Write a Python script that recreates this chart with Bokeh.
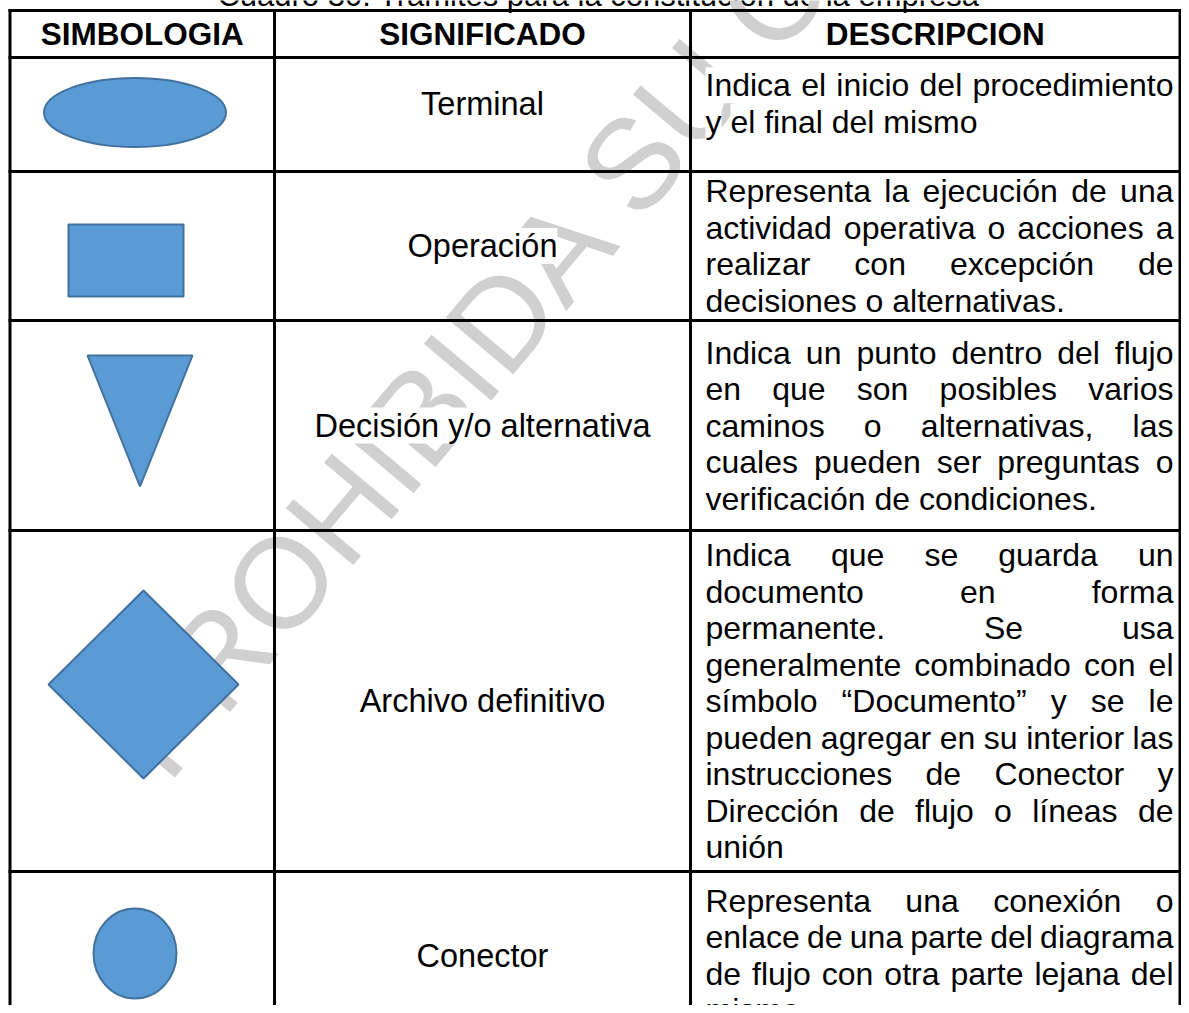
import numpy as np
from bokeh.plotting import figure
from bokeh.models import Range1d, ColumnDataSource
from bokeh.core.properties import value
from bokeh.embed import file_html
from bokeh.resources import INLINE

# ---------------- content ----------------
title = "Cuadro 30: Trámites para la constitución de la empresa"
headers = ["SIMBOLOGIA", "SIGNIFICADO", "DESCRIPCION"]
meanings = ["Terminal", "Operación", "Decisión y/o alternativa",
            "Archivo definitivo", "Conector"]
symbols = ["ellipse", "rect", "triangle", "diamond", "circle"]
descriptions = [
    ["Indica el inicio del procedimiento",
     "y el final del mismo"],
    ["Representa la ejecución de una",
     "actividad operativa o acciones a",
     "realizar con excepción de",
     "decisiones o alternativas."],
    ["Indica un punto dentro del flujo",
     "en que son posibles varios",
     "caminos o alternativas, las",
     "cuales pueden ser preguntas o",
     "verificación de condiciones."],
    ["Indica que se guarda un",
     "documento en forma",
     "permanente. Se usa",
     "generalmente combinado con el",
     "símbolo “Documento” y se le",
     "pueden agregar en su interior las",
     "instrucciones de Conector y",
     "Dirección de flujo o líneas de",
     "unión"],
    ["Representa una conexión o",
     "enlace de una parte del diagrama",
     "de flujo con otra parte lejana del",
     "mismo"],
]
watermark = "PROHIBIDA SU COPIA"

# ---------------- layout (pixels of the picture) ----------------
FIG_W, FIG_H = 1181, 1005

col_x = [9.5, 274, 690, 1179.5]
row_y = [10, 57, 171, 320, 530, 871, 1039]
row_nudge = [-11, 0, 0, 0, 0]
desc_left, desc_right = 705, 1173
sym_cx = [134.5, 125.5, 139.5, 143, 134.5]
sym_cy = [112, 260, 420.5, 684, 953]
sym_w = [182, 115, 105, 190, 83]
sym_h = [69, 72, 131, 188, 90]

FONT = "Liberation Sans"
FS_HEAD = 31.5
FS_LABEL = 32.5
FS_DESC = 32.0
LINE_H = 36.5
FILL = "#5B9BD5"
EDGE = "#41719C"
WM_COLOR = "#d0d0d0"
WM_SIZE = 128.0
WM_ANGLE = 50.0
WM_O_CENTER = (280.0, 582.0)

# Arial / Liberation Sans advance widths (per 1000 em)
AW = {' ': 278, ',': 278, '.': 278, '/': 278, ':': 278, '“': 333, '”': 333,
      'a': 556, 'b': 556, 'c': 500, 'd': 556, 'e': 556, 'f': 278, 'g': 556,
      'h': 556, 'i': 222, 'j': 222, 'k': 500, 'l': 222, 'm': 833, 'n': 556,
      'o': 556, 'p': 556, 'q': 556, 'r': 333, 's': 500, 't': 278, 'u': 556,
      'v': 500, 'w': 722, 'x': 500, 'y': 500, 'z': 500,
      'á': 556, 'é': 556, 'í': 278, 'ó': 556, 'ú': 556, 'ñ': 556,
      'A': 667, 'B': 667, 'C': 722, 'D': 722, 'E': 667, 'F': 611, 'G': 778,
      'H': 722, 'I': 278, 'L': 556, 'M': 833, 'N': 722, 'O': 778, 'P': 667,
      'R': 722, 'S': 667, 'T': 611, 'U': 722}


def tw(s, size):
    return sum(AW.get(ch, 556) for ch in s) * size / 1000.0


p = figure(width=FIG_W, height=FIG_H,
           x_range=Range1d(0, FIG_W), y_range=Range1d(FIG_H, 0),
           output_backend="svg", toolbar_location=None, min_border=0,
           x_axis_location=None, y_axis_location=None)
p.xgrid.grid_line_color = None
p.ygrid.grid_line_color = None
p.outline_line_color = None
p.background_fill_color = "white"
p.border_fill_color = "white"

# ---------------- title (mostly above the top edge, as in the source) ----------------
p.text(x=[598], y=[-5], text=[title], text_font=value(FONT),
       text_font_size="31px", text_color="black", text_align="center",
       text_baseline="middle")

# ---------------- watermark ----------------
ang = np.deg2rad(WM_ANGLE)
d = np.array([np.cos(ang), -np.sin(ang)])
o_off = tw("PR", WM_SIZE) + tw("O", WM_SIZE) / 2
start = np.array(WM_O_CENTER) - o_off * d
p.text(x=[start[0]], y=[start[1]], text=[watermark], angle=[WM_ANGLE], angle_units="deg",
       text_font=value(FONT), text_font_size=f"{WM_SIZE}px",
       text_color=WM_COLOR, text_align="left", text_baseline="middle")

# ---------------- texts ----------------
hx = [(col_x[i] + col_x[i + 1]) / 2 for i in range(3)]
hy = [(row_y[0] + row_y[1]) / 2] * 3
p.text(x=hx, y=hy, text=headers, text_font=value(FONT), text_font_size=f"{FS_HEAD}px",
       text_font_style="bold", text_color="black", text_align="center",
       text_baseline="middle")

centers = [(row_y[i + 1] + row_y[i + 2]) / 2 + row_nudge[i] for i in range(5)]

p.text(x=[hx[1]] * 5, y=centers, text=meanings,
       text_font=value(FONT), text_font_size=f"{FS_LABEL}px", text_color="black",
       text_align="center", text_baseline="middle",
       background_fill_color="white")

wx, wy, wt = [], [], []
for r, lines in enumerate(descriptions):
    n = len(lines)
    for i, line in enumerate(lines):
        yc = centers[r] + (i - (n - 1) / 2) * LINE_H
        words = line.split()
        widths = [tw(w, FS_DESC) for w in words]
        if i == n - 1 or len(words) == 1:
            gap = tw(" ", FS_DESC)
        else:
            gap = (desc_right - desc_left - sum(widths)) / (len(words) - 1)
        x = desc_left
        for w, ww in zip(words, widths):
            wx.append(x); wy.append(yc); wt.append(w)
            x += ww + gap
src = ColumnDataSource(dict(x=wx, y=wy, text=wt))
p.text(x="x", y="y", text="text", source=src, text_font=value(FONT),
       text_font_size=f"{FS_DESC}px", text_color="black", text_align="left",
       text_baseline="middle", background_fill_color="white")

# ---------------- symbols ----------------
for s, cx, cy, w, h in zip(symbols, sym_cx, sym_cy, sym_w, sym_h):
    if s in ("ellipse", "circle"):
        p.ellipse(x=[cx], y=[cy], width=[w], height=[h], fill_color=FILL,
                  line_color=EDGE, line_width=2)
    elif s == "rect":
        p.rect(x=[cx], y=[cy], width=[w], height=[h], fill_color=FILL,
               line_color=EDGE, line_width=2)
    elif s == "triangle":
        p.patch(x=[cx - w / 2, cx + w / 2, cx], y=[cy - h / 2, cy - h / 2, cy + h / 2],
                fill_color=FILL, line_color=EDGE, line_width=2)
    elif s == "diamond":
        p.patch(x=[cx, cx + w / 2, cx, cx - w / 2], y=[cy - h / 2, cy, cy + h / 2, cy],
                fill_color=FILL, line_color=EDGE, line_width=2)

# ---------------- grid lines ----------------
vx0, vy0, vx1, vy1 = [], [], [], []
for x in col_x:
    vx0.append(x); vx1.append(x); vy0.append(row_y[0]); vy1.append(row_y[-1])
for y in row_y:
    vx0.append(col_x[0]); vx1.append(col_x[-1]); vy0.append(y); vy1.append(y)
p.segment(x0=vx0, y0=vy0, x1=vx1, y1=vy1, line_color="black", line_width=3,
          line_cap="square")

open("out.html", "w").write(file_html(p, INLINE))
